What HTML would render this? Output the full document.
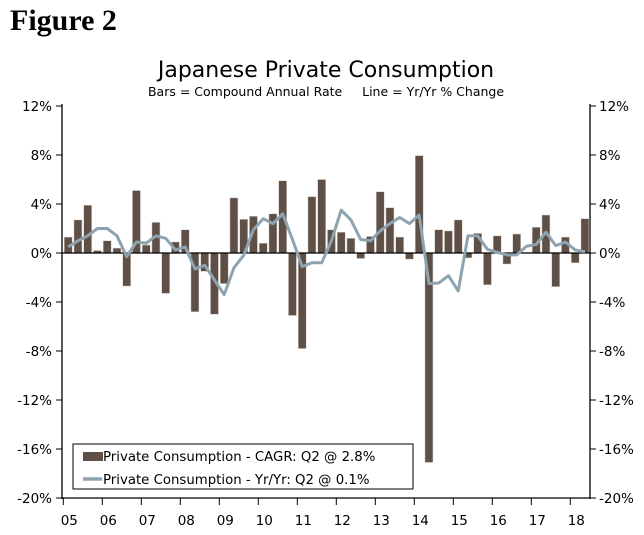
<!DOCTYPE html>
<html><head><meta charset="utf-8"><style>
body{margin:0;background:#fff;}
svg{display:block;font-family:"DejaVu Sans","Liberation Sans",sans-serif;}
</style></head><body>
<svg id="chart" width="644" height="535" xmlns="http://www.w3.org/2000/svg">
<text x="10" y="30" font-family="Liberation Serif,serif" font-weight="bold" font-size="30">Figure 2</text>
<text x="326" y="77" text-anchor="middle" font-size="22">Japanese Private Consumption</text>
<text x="326" y="96" text-anchor="middle" font-size="12.5">Bars = Compound Annual Rate &#160;&#160;&#160;&#160;Line = Yr/Yr % Change</text>
<g id="axes"></g>
<g id="bars"></g>
<g id="line"></g>
<g>
<rect x="73" y="444" width="340" height="45" fill="#fff" stroke="#000" stroke-width="1"/>
<rect x="83" y="452" width="20" height="9" fill="#5e5046"/>
<text x="103" y="461" font-size="13.3">Private Consumption - CAGR: Q2 @ 2.8%</text>
<line x1="83" y1="479" x2="102" y2="479" stroke="#8ea3b0" stroke-width="3.5"/>
<text x="103" y="484" font-size="13.3">Private Consumption - Yr/Yr: Q2 @ 0.1%</text>
</g>
</svg>
<script>
const cagr=[1.3,2.7,3.9,0.2, 1.0,0.4,-2.7,5.1, 0.65,2.5,-3.3,0.9, 1.9,-4.8,-1.5,-5.0, -2.5,4.5,2.75,3.0, 0.8,3.2,5.9,-5.1, -7.8,4.6,6.0,1.9, 1.7,1.2,-0.45,1.35, 5.0,3.7,1.3,-0.5, 7.95,-17.1,1.9,1.8, 2.7,-0.4,1.6,-2.6, 1.4,-0.9,1.55,0.05, 2.1,3.1,-2.75,1.3, -0.8,2.8];
const yoy=[0.5,1.0,1.4,2.0, 2.0,1.4,-0.3,0.9, 0.8,1.4,1.2,0.25, 0.5,-1.3,-1.0,-2.2, -3.4,-1.2,-0.2,1.9, 2.8,2.4,3.2,1.1, -1.1,-0.8,-0.8,1.0, 3.5,2.7,1.1,1.0, 1.8,2.4,2.9,2.4, 3.1,-2.5,-2.45,-1.85, -3.1,1.4,1.4,0.3, 0.05,-0.15,-0.15,0.55, 0.7,1.7,0.6,0.9, 0.25,0.1];
const yTicks=[12,8,4,0,-4,-8,-12,-16,-20];
const yearLabels=["05","06","07","08","09","10","11","12","13","14","15","16","17","18"];
const NS="http://www.w3.org/2000/svg";
const L=62,R=590,T=106,B=498,X0=63.3,YW=39;
const y=v=>T+(12-v)/32*(B-T);
const x=i=>X0+4.9+i*YW/4;
function mk(tag,attrs,parent){const e=document.createElementNS(NS,tag);for(const k in attrs)e.setAttribute(k,attrs[k]);parent.appendChild(e);return e;}
const ax=document.getElementById('axes');
let e;
e=mk('line',{x1:L,y1:T-2,x2:L,y2:B+1,stroke:'#000','stroke-width':1.3},ax);


e=mk('line',{x1:R,y1:T-2,x2:R,y2:B+1,stroke:'#000','stroke-width':1.3},ax);


e=mk('line',{x1:L,y1:B,x2:R,y2:B,stroke:'#000','stroke-width':1.3},ax);


yTicks.forEach(v=>{
  const yy=y(v);
  mk('line',{x1:L-6,y1:yy,x2:L,y2:yy,stroke:'#000'},ax);
  mk('line',{x1:R,y1:yy,x2:R+6,y2:yy,stroke:'#000'},ax);
  e=mk('text',{x:L-10,y:yy+5,'text-anchor':'end','font-size':13.5},ax);e.textContent=v+'%';
  
  
  e=mk('text',{x:R+9,y:yy+5,'font-size':13.5},ax);e.textContent=v+'%';
  
  
});
yearLabels.forEach((lb,k)=>{
  const xx=X0+k*YW;
  mk('line',{x1:xx,y1:B,x2:xx,y2:B+7,stroke:'#000'},ax);
  e=mk('text',{x:xx+6,y:B+27,'text-anchor':'middle','font-size':13.5},ax);e.textContent=lb;
  
  
});
const bg=document.getElementById('bars');
cagr.forEach((v,i)=>{
  const y0=y(0),yv=y(v);
  e=mk('rect',{x:x(i)-4,y:Math.min(y0,yv),width:8,height:Math.abs(yv-y0),fill:'#5e5046',stroke:'#d8d2cc','stroke-width':0.5},bg);
  
  
});
e=mk('line',{x1:L,y1:y(0),x2:R,y2:y(0),stroke:'#000','stroke-width':1.3},bg);


const lg=document.getElementById('line');
e=mk('polyline',{points:yoy.map((v,i)=>x(i)+','+y(v)).join(' '),fill:'none',stroke:'#8ea3b0','stroke-width':3,'stroke-linejoin':'round'},lg);


</script>
</body></html>
